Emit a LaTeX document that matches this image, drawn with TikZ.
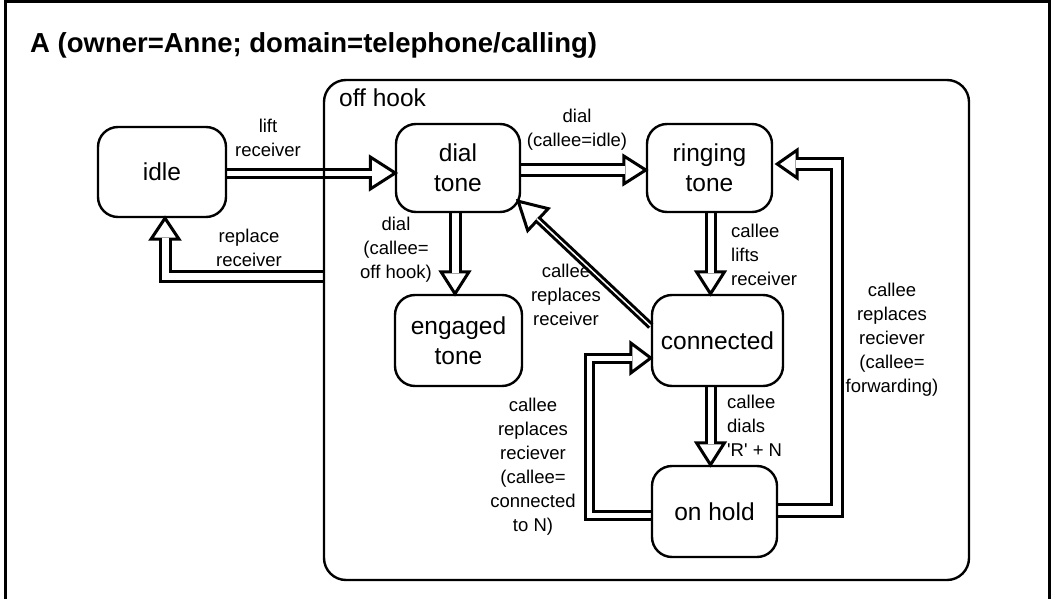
\documentclass[tikz,border=0pt]{standalone}
\usepackage{fontspec}
\setmainfont{Liberation Sans}
\usetikzlibrary{calc}
\pgfdeclarelayer{back}
\pgfdeclarelayer{arrowlayer}
\pgfsetlayers{back,arrowlayer,main}
\newcommand{\lbl}[2][c]{\begin{tabular}[t]{@{}#1@{}}#2\end{tabular}}
\newcommand{\fhead}[4]{\draw[headst, shift={(#1)}, rotate=#2] (0,0) -- (-#3,#4) -- (-#3,-#4) -- cycle;}
\begin{document}
\begin{tikzpicture}[x=1pt,y=-1pt,
  box/.style={draw, line width=2.4pt, rounded corners=20pt, align=center, inner sep=0pt,
    font=\fontsize{24.5}{30}\selectfont},
  lab/.style={inner sep=0pt, font=\fontsize{18.5}{24}\selectfont},
  shaft/.style={draw, line width=3pt, double=white, double distance=#1},
  headst/.style={draw, fill=white, line width=3pt, line join=miter}]
\begin{pgfonlayer}{back}
\fill[white] (0,0) rectangle (1052,599);
\end{pgfonlayer}
\useasboundingbox (0,0) rectangle (1052,599);
% outer frame
\draw[line width=3pt] (5,612) -- (5,2) -- (1049.5,2) -- (1049.5,612);
\node[anchor=base west, inner sep=0pt, font=\fontsize{27.5}{32}\selectfont\bfseries] (title) at (30,53) {A (owner=Anne; domain=telephone/calling)};
% container
\node[draw, line width=2.4pt, rounded corners=22pt, minimum width=645pt, minimum height=500pt, inner sep=0pt] (offhook) at (646.5,330) {};
\node[anchor=base west, inner sep=0pt, font=\fontsize{24.5}{30}\selectfont] (offhooklabel) at (339,107) {off hook};
% states
\node[box, minimum width=128pt, minimum height=90pt] (idle) at (162,172) {idle};
\node[box, minimum width=124pt, minimum height=88pt] (dial) at (458,168) {dial\\tone};
\node[box, minimum width=125pt, minimum height=88pt] (ring) at (709.5,168) {ringing\\tone};
\node[box, minimum width=127pt, minimum height=91pt] (eng) at (458.5,340.5) {engaged\\tone};
\node[box, minimum width=131pt, minimum height=91pt] (conn) at (717.5,340.5) {connected};
\node[box, minimum width=125pt, minimum height=91pt] (hold) at (714.5,511.5) {on hold};
% arrows
\begin{pgfonlayer}{arrowlayer}
% lift receiver
\coordinate (t1) at ($(dial.west)+(0.5,5)$);
\fhead{t1}{0}{25}{16}
\draw[shaft=5] (idle.east |- t1) -- ($(t1)+(-23.5,0)$);
% replace receiver
\coordinate (s2) at ($(offhook.west)+(0,-53.5)$);
\coordinate (t2) at ($(idle.south)+(3,0)$);
\fhead{t2}{90}{21}{14}
\draw[shaft=7] (s2) -- (s2 -| t2) -- ($(t2)+(0,19.5)$);
% dial callee=idle
\coordinate (t3) at ($(ring.west)+(0,2)$);
\fhead{t3}{0}{22}{14}
\draw[shaft=8.5] (dial.east |- t3) -- ($(t3)+(-20.5,0)$);
% dial callee=off hook
\coordinate (t4) at ($(eng.north)+(-3.5,0)$);
\fhead{t4}{-90}{22}{14}
\draw[shaft=7] (dial.south -| t4) -- ($(t4)+(0,-20.5)$);
% callee lifts receiver
\coordinate (t5) at ($(conn.north)+(-7,0)$);
\fhead{t5}{-90}{22}{14}
\draw[shaft=6] (ring.south -| t5) -- ($(t5)+(0,-20.5)$);
% callee replaces receiver (diagonal)
\coordinate (s6) at ($(conn.west)+(0,-14.5)$);
\coordinate (t6) at ($(dial.south east)+(-3,-12)$);
\fhead{t6}{137}{27}{15}
\draw[shaft=1.5] (s6) -- ($(t6)!25.5pt!(s6)$);
% callee dials R + N
\coordinate (t7) at ($(hold.north)+(-4,0)$);
\fhead{t7}{-90}{22}{14}
\draw[shaft=6] (conn.south -| t7) -- ($(t7)+(0,-20.5)$);
% forwarding loop
\coordinate (s8) at ($(hold.east)+(0,-1)$);
\coordinate (t8) at ($(ring.east)+(4,-4)$);
\fhead{t8}{180}{20}{14}
\draw[shaft=8.5] (s8) -- ++(59,0) |- ($(t8)+(18.5,0)$);
% connected to N loop
\coordinate (s9) at ($(hold.west)+(0,3.5)$);
\coordinate (t9) at ($(conn.west)+(0,17.5)$);
\fhead{t9}{0}{20}{15}
\draw[shaft=5] (s9) -- ++(-61,0) |- ($(t9)+(-18.5,0)$);
\end{pgfonlayer}
% labels
\node[lab, anchor=base] (l1) at (268,133) {\lbl{lift\\receiver}};
\node[lab, anchor=base] (l2) at (249,242) {\lbl{replace\\receiver}};
\node[lab, anchor=base] (l3) at (577,123) {\lbl{dial\\(callee=idle)}};
\node[lab, anchor=base] (l4) at (396,230) {\lbl{dial\\(callee=\\off hook)}};
\node[lab, anchor=base west] (l5) at (731,237) {\lbl[l]{callee\\lifts\\receiver}};
\node[lab, anchor=base] (l6) at (566,277) {\lbl{callee\\replaces\\receiver}};
\node[lab, anchor=base west] (l7) at (727,408) {\lbl[l]{callee\\dials\\\textquotesingle R\textquotesingle{} + N}};
\node[lab, anchor=base] (l8) at (892,296) {\lbl{callee\\replaces\\reciever\\(callee=\\forwarding)}};
\node[lab, anchor=base] (l9) at (533,411) {\lbl{callee\\replaces\\reciever\\(callee=\\connected\\to N)}};
\end{tikzpicture}
\end{document}
